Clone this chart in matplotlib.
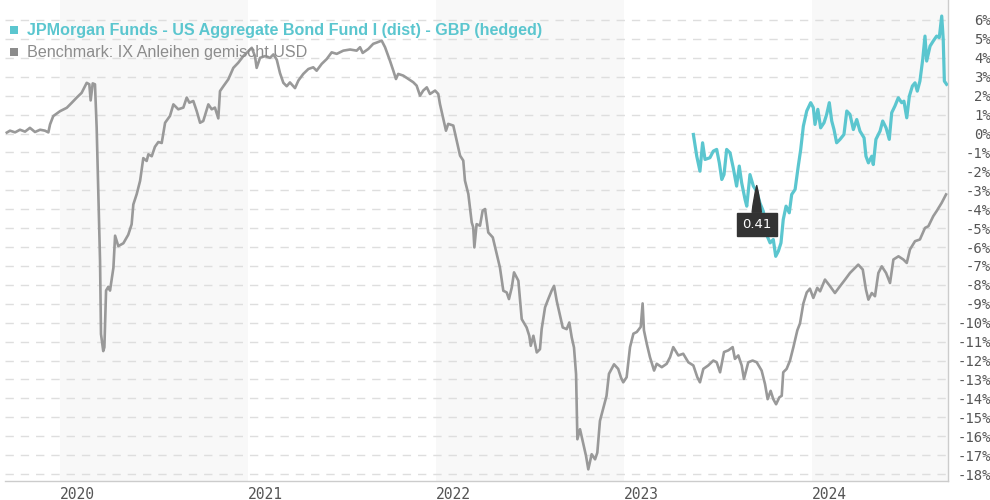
import matplotlib
matplotlib.use("Agg")
import matplotlib.pyplot as plt
from matplotlib.patches import Rectangle

# benchmark (grey), x in decimal years, y in % performance
bench_t = [2019.717, 2019.734, 2019.761, 2019.787, 2019.814, 2019.840, 2019.867, 2019.894, 2019.920, 2019.938,
           2019.947, 2019.964, 2020.000, 2020.036, 2020.062, 2020.089, 2020.115, 2020.142, 2020.156, 2020.163,
           2020.174, 2020.186, 2020.195, 2020.204, 2020.213, 2020.218, 2020.230, 2020.236, 2020.245, 2020.257,
           2020.266, 2020.284, 2020.293, 2020.310, 2020.337, 2020.363, 2020.381, 2020.390, 2020.408, 2020.426,
           2020.443, 2020.461, 2020.470, 2020.488, 2020.505, 2020.523, 2020.541, 2020.559, 2020.585, 2020.603,
           2020.629, 2020.656, 2020.674, 2020.688, 2020.709, 2020.727, 2020.745, 2020.762, 2020.789, 2020.807,
           2020.824, 2020.842, 2020.851, 2020.869, 2020.895, 2020.922, 2020.948, 2020.975, 2021.002, 2021.020,
           2021.037, 2021.046, 2021.064, 2021.090, 2021.117, 2021.135, 2021.153, 2021.170, 2021.188, 2021.206,
           2021.223, 2021.250, 2021.268, 2021.294, 2021.321, 2021.347, 2021.365, 2021.392, 2021.419, 2021.445,
           2021.472, 2021.507, 2021.543, 2021.578, 2021.596, 2021.610, 2021.640, 2021.666, 2021.688, 2021.711,
           2021.729, 2021.755, 2021.773, 2021.787, 2021.799, 2021.826, 2021.853, 2021.879, 2021.897, 2021.915,
           2021.932, 2021.951, 2021.968, 2021.995, 2022.012, 2022.021, 2022.039, 2022.053, 2022.065, 2022.092,
           2022.110, 2022.128, 2022.145, 2022.154, 2022.172, 2022.190, 2022.198, 2022.204, 2022.216, 2022.234,
           2022.248, 2022.261, 2022.278, 2022.302, 2022.323, 2022.340, 2022.358, 2022.376, 2022.388, 2022.403,
           2022.415, 2022.438, 2022.456, 2022.482, 2022.496, 2022.504, 2022.518, 2022.536, 2022.553, 2022.562,
           2022.580, 2022.597, 2022.615, 2022.628, 2022.642, 2022.656, 2022.674, 2022.695, 2022.709, 2022.722,
           2022.734, 2022.745, 2022.752, 2022.766, 2022.784, 2022.798, 2022.810, 2022.828, 2022.846, 2022.858,
           2022.872, 2022.890, 2022.907, 2022.920, 2022.947, 2022.969, 2022.984, 2022.996, 2023.014, 2023.032,
           2023.050, 2023.068, 2023.089, 2023.099, 2023.106, 2023.121, 2023.138, 2023.160, 2023.174, 2023.201,
           2023.227, 2023.245, 2023.262, 2023.289, 2023.315, 2023.342, 2023.369, 2023.390, 2023.404, 2023.422,
           2023.448, 2023.475, 2023.493, 2023.511, 2023.532, 2023.555, 2023.578, 2023.590, 2023.608, 2023.626,
           2023.638, 2023.661, 2023.684, 2023.706, 2023.732, 2023.750, 2023.764, 2023.780, 2023.794, 2023.809,
           2023.826, 2023.839, 2023.847, 2023.865, 2023.883, 2023.901, 2023.922, 2023.936, 2023.954, 2023.972,
           2023.989, 2024.007, 2024.028, 2024.043, 2024.069, 2024.096, 2024.122, 2024.149, 2024.176, 2024.202,
           2024.220, 2024.246, 2024.270, 2024.287, 2024.300, 2024.318, 2024.335, 2024.353, 2024.371, 2024.394,
           2024.415, 2024.433, 2024.460, 2024.486, 2024.504, 2024.521, 2024.548, 2024.574, 2024.601, 2024.619,
           2024.645, 2024.663, 2024.690, 2024.713]
bench_v = [0.05, 0.15, 0.06, 0.2, 0.1, 0.3, 0.08, 0.2, 0.15, 0.06,
           0.48, 0.92, 1.18, 1.36, 1.62, 1.9, 2.15, 2.68, 2.6, 1.75,
           2.65, 2.6, 0.3, -3.2, -6.75, -10.6, -11.5, -11.3, -8.3, -8.1,
           -8.3, -7.1, -5.4, -5.95, -5.8, -5.35, -4.8, -3.75, -3.2, -2.5,
           -1.3, -1.45, -1.1, -1.2, -0.7, -0.45, -0.5, 0.57, 0.93, 1.54,
           1.28, 1.37, 1.9, 1.63, 1.72, 1.19, 0.57, 0.66, 1.54, 1.28,
           1.37, 0.8, 2.24, 2.5, 2.86, 3.47, 3.74, 4.09, 4.35, 4.53,
           4.09, 3.47, 4.0, 4.09, 4.0, 4.18, 3.9, 3.2, 2.68, 2.5,
           2.7, 2.4, 2.8, 3.15, 3.41, 3.5, 3.32, 3.68, 3.94, 4.29,
           4.21, 4.38, 4.44, 4.38, 4.56, 4.26, 4.47, 4.74, 4.82, 4.91,
           4.56, 3.85, 3.32, 2.88, 3.15, 3.06, 2.88, 2.71, 2.53, 2.0,
           2.27, 2.44, 2.09, 2.27, 2.09, 1.56, 0.77, 0.15, 0.51, 0.42,
           -0.38, -1.17, -1.43, -2.49, -3.2, -4.7, -4.96, -6.02, -4.79, -4.87,
           -4.08, -3.99, -5.23, -5.49, -6.37, -7.08, -8.31, -8.4, -8.75, -8.14,
           -7.34, -7.78, -9.81, -10.25, -10.69, -11.22, -10.69, -11.57, -11.4, -10.34,
           -9.19, -8.75, -8.31, -8.05, -8.84, -9.46, -10.25, -10.34, -9.99, -10.78,
           -11.31, -12.72, -16.16, -15.63, -16.42, -17.04, -17.75, -16.95, -17.22, -16.87,
           -15.19, -14.5, -13.87, -12.7, -12.2, -12.44, -12.9, -13.15, -12.88, -11.29,
           -10.58, -10.49, -10.22, -8.98, -10.4, -11.11, -11.82, -12.53, -12.17, -12.35,
           -12.17, -11.82, -11.29, -11.73, -11.64, -12.09, -12.26, -12.88, -13.15, -12.44,
           -12.26, -12.0, -12.09, -12.62, -11.55, -11.46, -11.29, -11.91, -11.73, -12.26,
           -12.97, -12.09, -12.0, -12.09, -12.53, -13.24, -14.04, -13.6, -14.04, -14.31,
           -13.95, -13.86, -12.62, -12.44, -12.0, -11.29, -10.4, -10.04, -8.98, -8.4,
           -8.2, -8.69, -8.16, -8.34, -7.72, -8.07, -8.43, -8.07, -7.72, -7.37,
           -7.19, -6.93, -7.19, -8.25, -8.78, -8.43, -8.6, -7.37, -7.02, -7.37,
           -7.9, -6.66, -6.49, -6.66, -6.84, -6.13, -5.69, -5.6, -4.99, -4.9,
           -4.37, -4.1, -3.66, -3.22]

# fund (teal)
fund_t = [2023.369, 2023.387, 2023.404, 2023.418, 2023.431, 2023.457, 2023.475, 2023.493, 2023.507, 2023.520,
          2023.532, 2023.546, 2023.564, 2023.581, 2023.599, 2023.613, 2023.626, 2023.644, 2023.653, 2023.670,
          2023.688, 2023.706, 2023.723, 2023.741, 2023.762, 2023.777, 2023.794, 2023.807, 2023.821, 2023.835,
          2023.847, 2023.862, 2023.879, 2023.892, 2023.910, 2023.927, 2023.940, 2023.954, 2023.972, 2023.993,
          2024.007, 2024.016, 2024.031, 2024.046, 2024.064, 2024.078, 2024.092, 2024.105, 2024.117, 2024.131,
          2024.149, 2024.170, 2024.185, 2024.202, 2024.220, 2024.238, 2024.255, 2024.277, 2024.287, 2024.300,
          2024.318, 2024.326, 2024.340, 2024.362, 2024.376, 2024.394, 2024.411, 2024.424, 2024.441, 2024.459,
          2024.477, 2024.489, 2024.504, 2024.518, 2024.534, 2024.548, 2024.560, 2024.574, 2024.589, 2024.601,
          2024.610, 2024.628, 2024.645, 2024.663, 2024.677, 2024.690, 2024.698, 2024.704, 2024.716]
fund_v = [-0.05, -1.2, -1.99, -0.49, -1.37, -1.28, -0.93, -0.84, -1.55, -2.43,
          -2.17, -0.84, -1.02, -1.81, -2.78, -1.72, -2.61, -3.49, -3.84, -2.17,
          -2.78, -3.05, -3.67, -4.11, -5.43, -5.78, -5.6, -6.49, -6.22, -5.78,
          -4.55, -3.84, -4.19, -3.22, -2.96, -1.72, -0.84, 0.39, 1.19, 1.63,
          1.37, 0.48, 1.28, 0.3, 0.57, 1.01, 1.63, 0.66, 0.21, -0.49,
          -0.31, -0.05, 1.19, 1.01, 0.21, 0.74, 0.13, -0.23, -1.2, -1.55,
          -1.2, -1.64, -0.31, 0.13, 0.66, 0.3, -0.31, 1.1, 1.45, 1.89,
          1.63, 1.71, 0.83, 1.98, 2.51, 2.68, 2.24, 2.77, 3.92, 5.15,
          3.83, 4.62, 4.89, 5.15, 5.07, 6.21, 4.98, 2.77, 2.6]

years = [2020, 2021, 2022, 2023, 2024]
shaded_years = [2020, 2022, 2024]
y_ticks = list(range(-18, 7))

fund_name = "JPMorgan Funds - US Aggregate Bond Fund I (dist) - GBP (hedged)"
bench_name = "Benchmark: IX Anleihen gemischt USD"
tip_t, tip_v, tip_label = 2023.706, -2.75, "0.41"

TEAL = "#5bc6cf"
GREY = "#999999"

fig = plt.figure(figsize=(9.9, 5), dpi=100)
ax = fig.add_axes([5 / 990, 19 / 500, 943 / 990, 481 / 500])

x_min, x_max = 2019.7074, 2024.7234
ax.set_xlim(x_min, x_max)
ax.set_ylim(-18.366, 7.057)

for yr in shaded_years:
    ax.axvspan(yr, min(yr + 1, x_max), color="#f8f8f8", lw=0, zorder=0)

ax.set_yticks(y_ticks)
ax.yaxis.grid(True, color="#dedede", lw=1, linestyle=(0, (6, 5)), zorder=1)
ax.set_axisbelow(True)

ax.plot(bench_t, bench_v, color=GREY, lw=1.9, zorder=3, solid_joinstyle="round")
ax.plot(fund_t, fund_v, color=TEAL, lw=2.3, zorder=4, solid_joinstyle="round")

for s in ["left", "top"]:
    ax.spines[s].set_visible(False)
for s in ["right", "bottom"]:
    ax.spines[s].set_color("#cccccc")
    ax.spines[s].set_linewidth(1)

ax.yaxis.tick_right()
ax.set_yticklabels([f"{v}%" for v in y_ticks])
ax.tick_params(axis="y", length=0, pad=31, labelsize=10, labelcolor="#555555")
for lab in ax.get_yticklabels():
    lab.set_horizontalalignment("right")
    lab.set_fontfamily("DejaVu Sans Mono")

ax.set_xticks(years)
ax.set_xticklabels([str(y) for y in years])
ax.tick_params(axis="x", length=0, pad=4, labelsize=10.5, labelcolor="#555555")
for lab in ax.get_xticklabels():
    lab.set_horizontalalignment("left")
    lab.set_fontfamily("DejaVu Sans Mono")

# legend
fig.add_artist(Rectangle((10 / 990, 1 - 34 / 500), 8 / 990, 8 / 500, transform=fig.transFigure,
                         color=TEAL, lw=0))
fig.text(27 / 990, 1 - 30 / 500, fund_name, color=TEAL, fontsize=11.6, fontweight="bold",
         family="Liberation Sans", va="center")
fig.add_artist(Rectangle((10 / 990, 1 - 56 / 500), 8 / 990, 8 / 500, transform=fig.transFigure,
                         color="#8c8c8c", lw=0))
fig.text(27 / 990, 1 - 52 / 500, bench_name, color="#8c8c8c", fontsize=11.6,
         family="Liberation Sans", va="center")

# tooltip
ax.annotate(tip_label, xy=(tip_t, tip_v), xytext=(0, -39), textcoords="offset pixels",
            ha="center", va="center", color="white", fontsize=9.5, zorder=6,
            bbox=dict(boxstyle="square,pad=0.4", fc="#333333", ec="#333333"),
            arrowprops=dict(arrowstyle="wedge,tail_width=0.7,shrink_factor=0.6", fc="#333333",
                            ec="#333333", shrinkA=0, shrinkB=0))

fig.savefig("out.png", dpi=100)
